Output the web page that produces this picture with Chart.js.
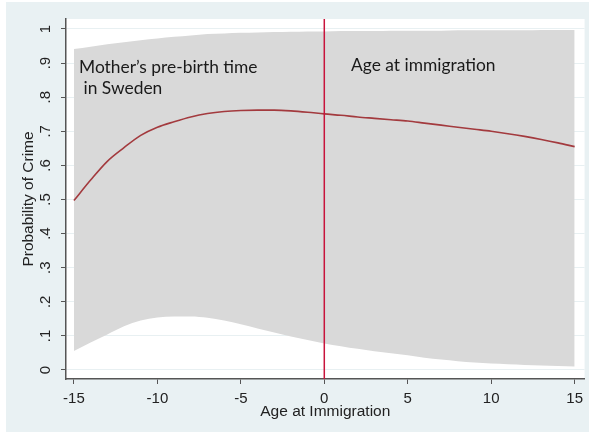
<!DOCTYPE html>
<html>
<head>
<meta charset="utf-8">
<title>Probability of Crime by Age at Immigration</title>
<script src="https://cdn.jsdelivr.net/npm/chart.js@4/dist/chart.umd.min.js"></script>
<style>
  html, body { margin: 0; padding: 0; background: #ffffff; }
  canvas { display: block; }
</style>
</head>
<body>
<canvas id="chart" width="589" height="434"></canvas>
<script>
// Age at immigration (negative = mother's pre-birth years in Sweden)
const ages = [-15, -14, -13, -12, -11, -10, -9, -8, -7, -6, -5, -4, -3, -2, -1, 0,
              1, 2, 3, 4, 5, 6, 7, 8, 9, 10, 11, 12, 13, 14, 15];

// Predicted probability of crime
const meanProb = [0.497, 0.557, 0.612, 0.652, 0.688, 0.712, 0.728, 0.742, 0.752, 0.758, 0.761,
                  0.762, 0.762, 0.760, 0.756, 0.751, 0.747, 0.742, 0.738, 0.734, 0.730,
                  0.724, 0.718, 0.712, 0.706, 0.700, 0.693, 0.685, 0.676, 0.666, 0.655];

// Upper and lower confidence bounds
const upperCI = [0.941, 0.948, 0.955, 0.961, 0.967, 0.972, 0.977, 0.981, 0.985, 0.987, 0.989,
                 0.990, 0.991, 0.992, 0.993, 0.993, 0.994, 0.994, 0.994, 0.995, 0.995,
                 0.995, 0.995, 0.996, 0.996, 0.996, 0.996, 0.996, 0.997, 0.997, 0.997];
const lowerCI = [0.056, 0.081, 0.104, 0.128, 0.145, 0.154, 0.157, 0.157, 0.153, 0.145, 0.134,
                 0.122, 0.110, 0.098, 0.088, 0.078, 0.070, 0.062, 0.055, 0.049, 0.043,
                 0.036, 0.031, 0.026, 0.022, 0.019, 0.017, 0.015, 0.013, 0.012, 0.010];

// Axis ticks
const xTicks = [-15, -10, -5, 0, 5, 10, 15];
const yTicks = [0, 0.1, 0.2, 0.3, 0.4, 0.5, 0.6, 0.7, 0.8, 0.9, 1];
const yTickLabels = ['0', '.1', '.2', '.3', '.4', '.5', '.6', '.7', '.8', '.9', '1'];

// Vertical reference line at immigration
const refLineAge = 0;

// Axis ranges
const X_MIN = -15.475, X_MAX = 15.594;
const Y_MIN = -0.0264, Y_MAX = 1.0293;

const xyPairs = (ys) => ages.map((a, i) => ({ x: a, y: ys[i] }));

const AXIS_FONT = 'Liberation Sans, Arial, sans-serif';
const NOTE_FONT = 'Lato, "Open Sans", sans-serif';

// Panel backgrounds: outer bluish-grey panel and white plot region
const backgroundPlugin = {
  id: 'panelBackground',
  beforeDraw(chart) {
    const { ctx, chartArea } = chart;
    ctx.save();
    ctx.fillStyle = '#ffffff';
    ctx.fillRect(0, 0, chart.width, chart.height);
    ctx.fillStyle = '#e9f1f3';
    ctx.fillRect(6, 2, chart.width - 6, 430);
    ctx.fillStyle = '#ffffff';
    ctx.fillRect(chartArea.left, chartArea.top,
                 chartArea.right - chartArea.left, chartArea.bottom - chartArea.top);
    ctx.restore();
  }
};

// Vertical (rotated) y tick labels and text notes
const labelsPlugin = {
  id: 'extraLabels',
  afterDraw(chart) {
    const { ctx } = chart;
    const y = chart.scales.y;
    ctx.save();
    ctx.fillStyle = '#222222';
    ctx.font = '15px ' + AXIS_FONT;
    ctx.textAlign = 'center';
    ctx.textBaseline = 'middle';
    yTicks.forEach((v, i) => {
      const py = y.getPixelForValue(v);
      ctx.save();
      ctx.translate(46, py);
      ctx.rotate(-Math.PI / 2);
      ctx.fillText(yTickLabels[i], 0, 0);
      ctx.restore();
    });

    ctx.font = '17.4px ' + NOTE_FONT;
    ctx.fillStyle = '#1a1a1a';
    ctx.textAlign = 'left';
    ctx.textBaseline = 'alphabetic';
    ctx.fillText('Mother\u2019s pre-birth time', 79, 73);
    ctx.fillText(' in Sweden', 79, 94);
    ctx.fillText('Age at immigration', 351, 71);
    ctx.restore();
  }
};

new Chart(document.getElementById('chart'), {
  type: 'line',
  data: {
    datasets: [
      {
        label: 'Immigration',
        data: [{ x: refLineAge, y: Y_MIN }, { x: refLineAge, y: Y_MAX }],
        borderColor: '#c8143c',
        borderWidth: 1.5,
        pointRadius: 0,
        fill: false
      },
      {
        label: 'Probability of Crime',
        data: xyPairs(meanProb),
        borderColor: '#a33a3e',
        borderWidth: 1.6,
        pointRadius: 0,
        cubicInterpolationMode: 'monotone',
        fill: false
      },
      {
        label: 'Upper bound',
        data: xyPairs(upperCI),
        borderColor: 'rgba(0,0,0,0)',
        borderWidth: 0,
        pointRadius: 0,
        cubicInterpolationMode: 'monotone',
        backgroundColor: '#d9d9d9',
        fill: '+1'
      },
      {
        label: 'Lower bound',
        data: xyPairs(lowerCI),
        borderColor: 'rgba(0,0,0,0)',
        borderWidth: 0,
        pointRadius: 0,
        cubicInterpolationMode: 'monotone',
        fill: false
      }
    ]
  },
  options: {
    responsive: false,
    animation: false,
    devicePixelRatio: 1,
    layout: { padding: { left: 0, right: 0, top: 19, bottom: 0 } },
    plugins: {
      legend: { display: false },
      tooltip: { enabled: false },
      title: { display: false }
    },
    scales: {
      x: {
        type: 'linear',
        min: X_MIN,
        max: X_MAX,
        afterBuildTicks(scale) { scale.ticks = xTicks.map(v => ({ value: v })); },
        afterFit(scale) { scale.height = 55; },
        border: { display: true, color: '#555555', width: 1.5 },
        grid: {
          display: true,
          drawOnChartArea: false,
          drawTicks: true,
          tickLength: 5,
          tickColor: '#555555',
          tickWidth: 1
        },
        ticks: {
          color: '#222222',
          font: { family: AXIS_FONT, size: 15 },
          padding: 6,
          maxRotation: 0,
          autoSkip: false
        },
        title: {
          display: true,
          text: 'Age at Immigration',
          color: '#222222',
          font: { family: AXIS_FONT, size: 15.5 },
          padding: { top: 0, bottom: 13 }
        }
      },
      y: {
        type: 'linear',
        min: Y_MIN,
        max: Y_MAX,
        afterBuildTicks(scale) { scale.ticks = yTicks.map(v => ({ value: v })); },
        afterFit(scale) { scale.width = 66; },
        border: { display: true, color: '#555555', width: 1.5 },
        grid: {
          display: true,
          drawOnChartArea: true,
          color: '#e8f0f2',
          lineWidth: 1,
          drawTicks: true,
          tickLength: 5,
          tickColor: '#555555',
          tickWidth: 1
        },
        ticks: { display: false },
        title: {
          display: true,
          text: 'Probability of Crime',
          color: '#222222',
          font: { family: AXIS_FONT, size: 15.5 },
          padding: { top: 19.5, bottom: 0 }
        }
      }
    }
  },
  plugins: [backgroundPlugin, labelsPlugin]
});
</script>
</body>
</html>
